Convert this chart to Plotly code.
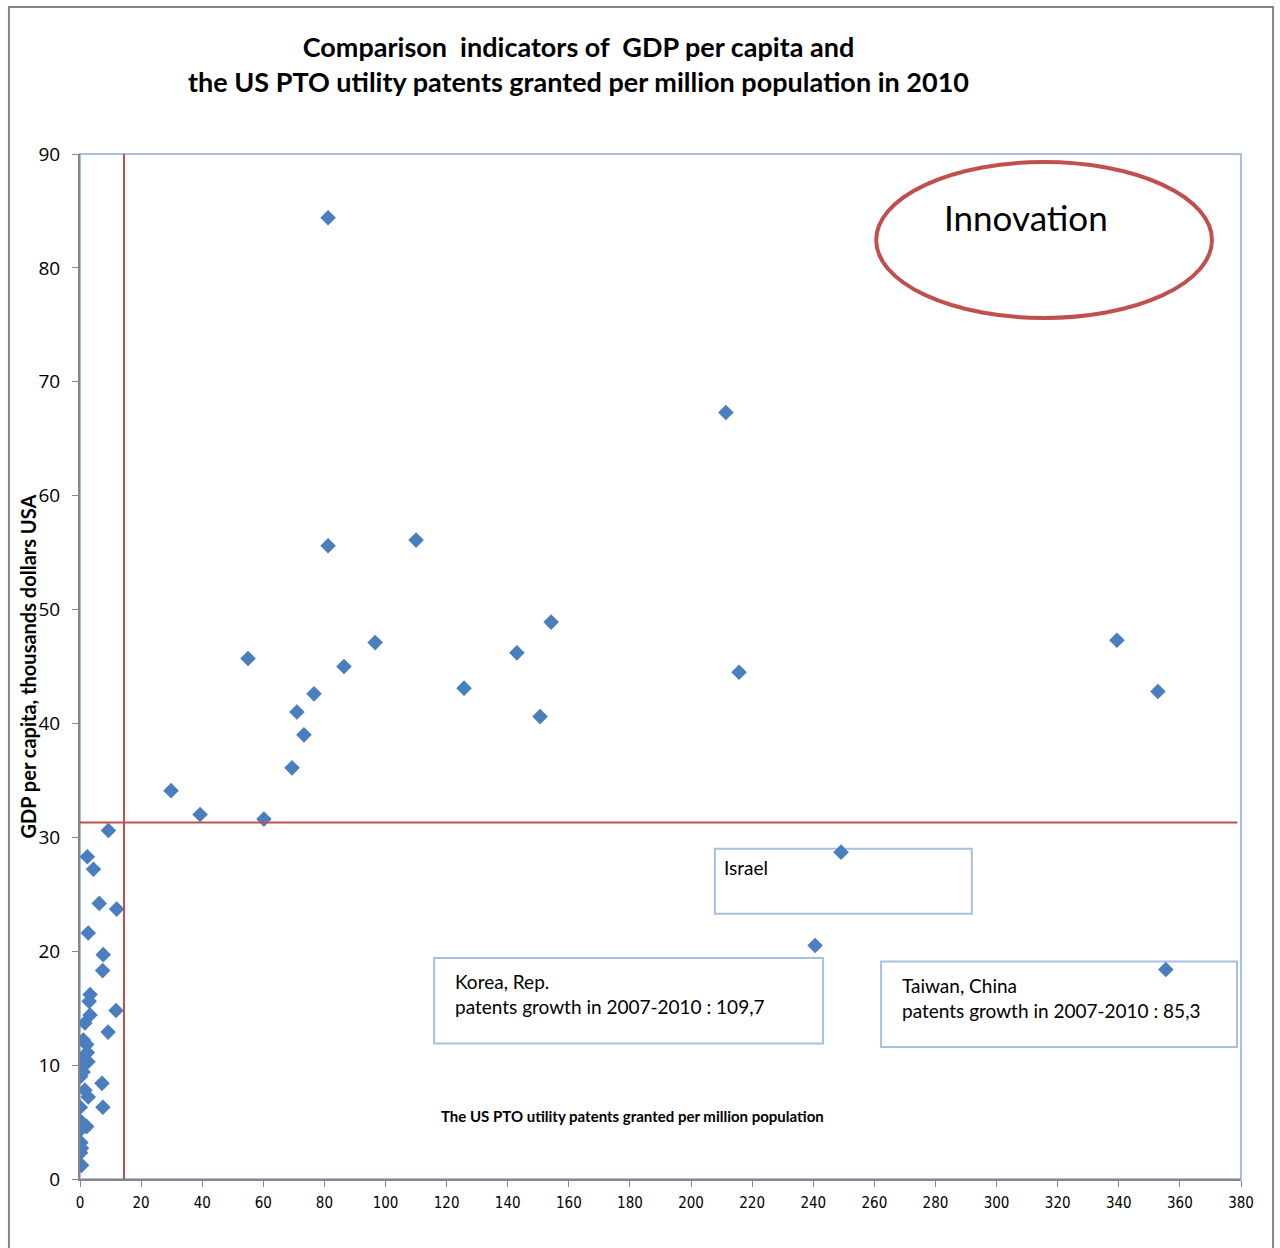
import plotly.graph_objects as go

# US PTO utility patents granted per million population (2010)
patents = [
    81.2, 211.4, 81.2, 110.0, 154.2, 96.6, 55.0, 143.0, 86.4, 215.7,
    339.4, 352.8, 76.6, 125.7, 71.0, 150.6, 73.3, 69.4, 29.8, 39.3,
    60.2, 9.3, 2.4, 4.4, 6.3, 12.0, 2.7, 7.6, 7.4,
    249.1, 240.6, 355.4,
    3.3, 3.0, 11.8, 3.3, 1.6, 9.2, 1.1, 2.2, 2.4, 1.0,
    2.6, 0.2, 1.0, 0.2, 7.2, 1.6, 2.7, 0.1, 7.5, 0.5,
    2.2, 0.1, 0.3, 0.5, 0.2, 0.5,
]
# GDP per capita, thousands USD (2010)
gdp = [
    84.4, 67.3, 55.6, 56.1, 48.9, 47.1, 45.7, 46.2, 45.0, 44.5,
    47.3, 42.8, 42.6, 43.1, 41.0, 40.6, 39.0, 36.1, 34.1, 32.0,
    31.6, 30.6, 28.3, 27.2, 24.2, 23.7, 21.6, 19.7, 18.3,
    28.7, 20.5, 18.4,
    16.2, 15.6, 14.8, 14.4, 13.7, 12.9, 12.2, 11.8, 11.1, 10.7,
    10.3, 10.0, 9.4, 9.0, 8.4, 7.8, 7.2, 6.3, 6.3, 5.0,
    4.6, 4.3, 3.2, 2.7, 2.3, 1.2,
]

# Threshold lines splitting the chart into quadrants
patents_threshold = 14.4
gdp_threshold = 31.3

x_ticks = list(range(0, 381, 20))
y_ticks = list(range(0, 91, 10))

title_lines = [
    "Comparison  indicators of  GDP per capita and",
    "the US PTO utility patents granted per million population in 2010",
]
y_title = "GDP per capita, thousands dollars USA"

red = "#C0504D"
light_blue = "#A7BFE0"
gray = "#868686"
point_blue = "#4A7EBF"
txt_font = "Lato, Calibri, Carlito, sans-serif"

fig = go.Figure()

fig.add_trace(go.Scatter(
    x=patents, y=gdp, mode="markers",
    marker=dict(symbol="diamond", size=12, color=point_blue,
                line=dict(width=0)),
    showlegend=False, hoverinfo="x+y",
))

shapes = [
    # outer frame of the chart area
    dict(type="rect", xref="paper", yref="paper",
         x0=-0.0612, x1=1.0276, y0=-0.09, y1=1.1434,
         line=dict(color=gray, width=2), layer="below"),
    # plot area border (top and right)
    dict(type="rect", xref="paper", yref="paper", x0=0, x1=1, y0=0, y1=1,
         line=dict(color=light_blue, width=2), layer="below"),
    # quadrant lines
    dict(type="line", x0=patents_threshold, x1=patents_threshold, y0=0, y1=90,
         line=dict(color=red, width=2)),
    dict(type="line", x0=0, x1=378.8, y0=gdp_threshold, y1=gdp_threshold,
         line=dict(color=red, width=2)),
    # "Innovation" ellipse
    dict(type="circle", x0=260.6, x1=370.5, y0=75.6, y1=89.3,
         line=dict(color=red, width=4)),
    # callout boxes
    dict(type="rect", x0=207.8, x1=291.9, y0=23.3, y1=29.0,
         line=dict(color=light_blue, width=2), layer="below"),
    dict(type="rect", x0=115.9, x1=243.2, y0=11.9, y1=19.4,
         line=dict(color=light_blue, width=2), layer="below"),
    dict(type="rect", x0=262.2, x1=378.7, y0=11.6, y1=19.1,
         line=dict(color=light_blue, width=2), layer="below"),
]

box_font = dict(family=txt_font, size=19, color="#000")

annotations = [
    dict(xref="paper", yref="paper", x=0.429, y=1.0875,
         text="<b>" + title_lines[0] + "</b><br><b>" + title_lines[1] + "</b>",
         showarrow=False, xanchor="center", yanchor="middle",
         font=dict(family=txt_font, size=27, color="#000"),
         align="center"),
    dict(xref="paper", yref="paper", x=-0.0456, y=0.5,
         text="<b>" + y_title + "</b>", textangle=-90, showarrow=False,
         xanchor="center", yanchor="middle",
         font=dict(family=txt_font, size=20, color="#000")),
    dict(x=309.5, y=84.5, text="Innovation", showarrow=False,
         font=dict(family=txt_font, size=35, color="#000")),
    dict(x=180.7, y=5.5, text="<b>The US PTO utility patents granted per million population</b>",
         showarrow=False,
         font=dict(family=txt_font, size=15, color="#000")),
    dict(x=210.0, y=28.5, text="Israel", showarrow=False,
         xanchor="left", yanchor="top", font=box_font),
    dict(x=122.2, y=18.5,
         text="Korea, Rep.<br>patents growth in 2007-2010 : 109,7",
         showarrow=False, xanchor="left", yanchor="top", align="left",
         font=box_font),
    dict(x=268.5, y=18.15,
         text="Taiwan, China<br>patents growth in 2007-2010 : 85,3",
         showarrow=False, xanchor="left", yanchor="top", align="left",
         font=box_font),
]

fig.update_layout(
    width=1280, height=1248,
    margin=dict(l=80, r=39, t=154, b=69),
    paper_bgcolor="white", plot_bgcolor="white",
    shapes=shapes, annotations=annotations,
    xaxis=dict(range=[0, 380], tickvals=x_ticks, ticktext=[str(v) for v in x_ticks],
               showgrid=False, zeroline=False, showline=True, linecolor=gray,
               linewidth=2, ticks="outside", ticklen=6, tickcolor=gray,
               ticklabelstandoff=3,
               tickfont=dict(family="Liberation Sans Narrow, DejaVu Sans Condensed, sans-serif",
                             size=15, color="#000")),
    yaxis=dict(range=[0, 90], tickvals=y_ticks, showgrid=False, zeroline=False,
               showline=True, linecolor=gray, linewidth=2, ticks="outside",
               ticklen=6, tickcolor=gray, ticklabelstandoff=8,
               tickfont=dict(family="Open Sans, sans-serif", size=19, color="#000")),
)

fig.write_html("out.html")
